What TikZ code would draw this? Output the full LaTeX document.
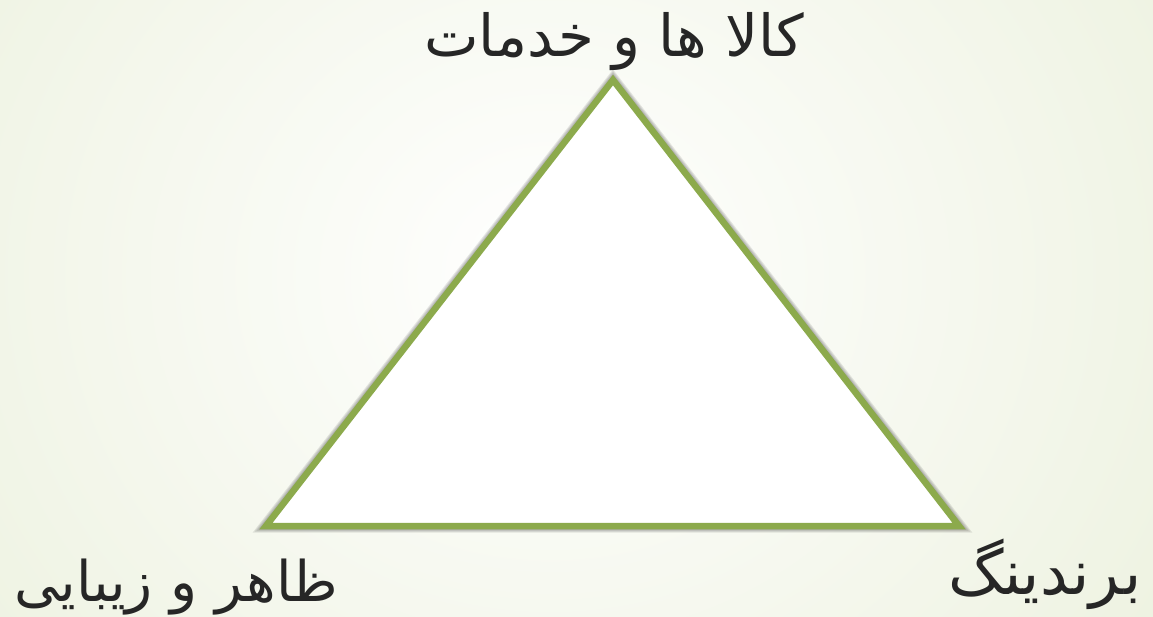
\documentclass[tikz,border=0pt]{standalone}
\usepackage{fontspec}
\TeXXeTstate=1
\newfontfamily\arabicfont[Script=Arabic]{DejaVu Sans}
\definecolor{edgegreen}{HTML}{8CAA4C}
\definecolor{bgouter}{HTML}{ECF1DE}
\definecolor{txt}{HTML}{262626}
\tikzset{
  lbl/.style={font=\arabicfont\fontsize{56}{60}\selectfont, text=txt, inner sep=0pt, anchor=base},
  tri/.style={draw=edgegreen, line width=6.5pt, fill=white, line join=miter},
  shad/.style={draw=black, line join=miter, opacity=0.09}
}
\begin{document}
\begin{tikzpicture}[x=1pt,y=-1pt]
\useasboundingbox (0,0) rectangle (1153,617);
\shade[inner color=white, outer color=bgouter] (-250,-450) rectangle (1350,1000);
\coordinate (A) at (613,80);
\coordinate (B) at (266,526);
\coordinate (C) at (959,526);
\begin{scope}[shift={(4,5)}]
\foreach \w in {13,11,9,7} {
  \draw[shad, line width=\w pt] (A) -- (C) -- (B) -- cycle;
}
\end{scope}
\filldraw[tri] (A) -- (C) -- (B) -- cycle;
\node[lbl, font=\arabicfont\fontsize{58}{62}\selectfont] (top) at (614,57) {\beginR کالا ها و خدمات\endR};
\node[lbl] (left) at (176,601) {\beginR ظاهر و زیبایی\endR};
\node[lbl, font=\arabicfont\fontsize{62}{66}\selectfont] (right) at (1045,594) {\beginR برندینگ\endR};
\end{tikzpicture}
\end{document}
